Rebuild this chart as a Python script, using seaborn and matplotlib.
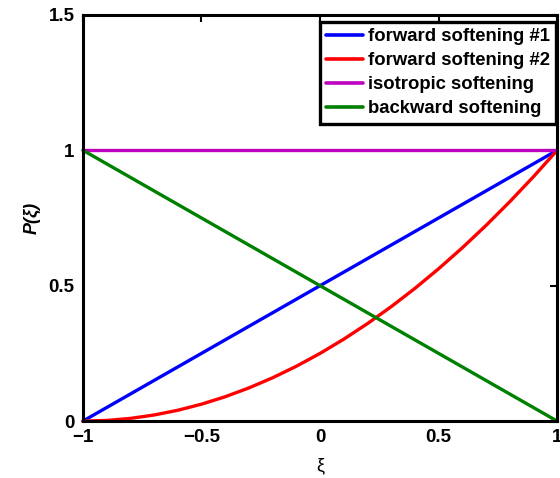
import matplotlib
matplotlib.use("Agg")
import matplotlib.pyplot as plt
import numpy as np
import pandas as pd
import seaborn as sns

sns.set_theme(style="white")
plt.rcParams["font.family"] = ["Liberation Sans", "DejaVu Sans"]
plt.rcParams.update({
    "text.color": "black",
    "axes.labelcolor": "black",
    "xtick.color": "black",
    "ytick.color": "black",
})

# sample positions along xi
xi = [-1.0, -0.9, -0.8, -0.7, -0.6, -0.5, -0.4, -0.3, -0.2, -0.1, 0.0,
      0.1, 0.2, 0.3, 0.4, 0.5, 0.6, 0.7, 0.8, 0.9, 1.0]

forward_1 = [0.0, 0.05, 0.10, 0.15, 0.20, 0.25, 0.30, 0.35, 0.40, 0.45, 0.50,
             0.55, 0.60, 0.65, 0.70, 0.75, 0.80, 0.85, 0.90, 0.95, 1.0]
forward_2 = [0.0, 0.0025, 0.01, 0.0225, 0.04, 0.0625, 0.09, 0.1225, 0.16, 0.2025, 0.25,
             0.3025, 0.36, 0.4225, 0.49, 0.5625, 0.64, 0.7225, 0.81, 0.9025, 1.0]
isotropic = [1.0] * 21
backward = [1.0, 0.95, 0.90, 0.85, 0.80, 0.75, 0.70, 0.65, 0.60, 0.55, 0.50,
            0.45, 0.40, 0.35, 0.30, 0.25, 0.20, 0.15, 0.10, 0.05, 0.0]

series_names = ["forward softening #1", "forward softening #2",
                "isotropic softening", "backward softening"]
series_values = [forward_1, forward_2, isotropic, backward]
series_colors = ["#0000ff", "#ff0000", "#bf00bf", "#008000"]

x_ticks = [-1, -0.5, 0, 0.5, 1]
x_tick_labels = ["\u22121", "\u22120.5", "0", "0.5", "1"]
y_ticks = [0, 0.5, 1, 1.5]
y_tick_labels = ["0", "0.5", "1", "1.5"]

df = pd.concat(
    [pd.DataFrame({"xi": xi, "P": vals, "series": name})
     for name, vals in zip(series_names, series_values)],
    ignore_index=True,
)

fig = plt.figure(figsize=(5.6, 4.78), dpi=100)
ax = fig.add_axes([0.148, 0.119, 0.847, 0.850])

sns.lineplot(data=df, x="xi", y="P", hue="series", hue_order=series_names,
             palette=series_colors, linewidth=2.4, ax=ax, sort=False,
             clip_on=False)

ax.set_xlim(-1, 1)
ax.set_ylim(0, 1.5)
ax.set_xticks(x_ticks)
ax.set_xticklabels(x_tick_labels)
ax.set_yticks(y_ticks)
ax.set_yticklabels(y_tick_labels)
for lab in ax.get_xticklabels() + ax.get_yticklabels():
    lab.set_fontweight("bold")
    lab.set_fontsize(13.5)
    lab.set_color("black")
ax.tick_params(direction="in", length=5, width=1.5, color="black",
               top=True, right=True, pad=6)
for s in ax.spines.values():
    s.set_linewidth(2.2)
    s.set_color("black")

ax.set_xlabel("\u03be", fontsize=13, labelpad=8, color="black")
ax.set_ylabel("P(\u03be)", fontsize=13, fontweight="bold", fontstyle="italic",
              labelpad=6, color="black")

leg = ax.legend(loc="upper right", bbox_to_anchor=(0.998, 0.983),
                fontsize=13.3, frameon=True, fancybox=False,
                handlelength=2.0, handletextpad=0.25, borderpad=0.35,
                labelspacing=0.38, borderaxespad=0)
leg.get_frame().set_edgecolor("black")
leg.get_frame().set_linewidth(2.4)
leg.get_frame().set_alpha(1.0)
for t in leg.get_texts():
    t.set_fontweight("bold")
    t.set_color("black")
for line in leg.get_lines():
    line.set_linewidth(2.6)

fig.savefig("out.png", dpi=100)
